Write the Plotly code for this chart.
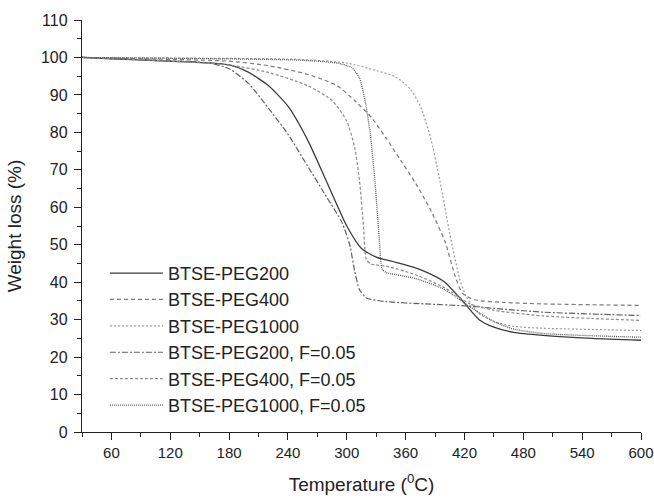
import plotly.graph_objects as go

# Temperatures (°C) and weight (%)
t_peg200 = [30, 60, 100, 140, 180, 200, 220, 240, 260, 280, 300, 315, 330, 350, 370, 385, 400, 418, 435, 450, 470, 500, 550, 600]
w_peg200 = [100, 99.6, 99.2, 98.8, 98.0, 96.0, 92.5, 87.0, 78.0, 66.5, 55.0, 49.0, 46.7, 45.3, 43.8, 42.2, 40.0, 35.0, 30.0, 28.0, 26.6, 25.8, 25.0, 24.5]

t_peg400 = [30, 100, 180, 220, 260, 290, 310, 325, 340, 355, 370, 385, 400, 410, 418, 430, 460, 500, 600]
w_peg400 = [100, 99.6, 99.0, 97.8, 95.5, 92.5, 88.0, 84.0, 78.5, 72.5, 66.5, 59.5, 51.0, 42.0, 37.0, 35.3, 34.6, 34.2, 33.8]

t_peg1000 = [30, 150, 250, 300, 330, 350, 365, 375, 385, 395, 405, 415, 422, 435, 450, 470, 500, 600]
w_peg1000 = [100, 99.8, 99.5, 98.5, 96.5, 94.8, 91.5, 87.0, 79.0, 67.0, 53.0, 41.0, 36.0, 31.6, 29.5, 28.2, 27.7, 27.1]

t_peg200f = [30, 100, 160, 180, 200, 220, 240, 260, 280, 295, 303, 308, 313, 320, 340, 380, 420, 460, 500, 550, 600]
w_peg200f = [100, 99.3, 98.5, 97.0, 93.0, 86.5, 79.5, 71.0, 62.5, 56.0, 50.0, 43.0, 38.0, 35.8, 34.8, 34.2, 33.7, 32.8, 32.0, 31.5, 31.1]

t_peg400f = [30, 100, 180, 220, 260, 285, 300, 308, 313, 317, 320, 325, 340, 370, 400, 425, 450, 500, 550, 600]
w_peg400f = [100, 99.3, 98.0, 96.0, 92.5, 88.5, 83.0, 76.0, 67.0, 55.0, 46.0, 44.8, 44.3, 42.0, 38.5, 34.3, 32.5, 31.0, 30.3, 29.8]

t_peg1000f = [30, 150, 250, 290, 305, 313, 319, 324, 329, 333, 336, 340, 370, 400, 425, 450, 470, 500, 550, 600]
w_peg1000f = [100, 99.7, 99.3, 98.5, 97.3, 94.5, 88.0, 79.5, 66.0, 52.0, 43.5, 42.6, 41.0, 38.0, 33.5, 29.5, 27.5, 26.3, 25.7, 25.3]

names = ["BTSE-PEG200", "BTSE-PEG400", "BTSE-PEG1000",
         "BTSE-PEG200, F=0.05", "BTSE-PEG400, F=0.05", "BTSE-PEG1000, F=0.05"]
series = [(t_peg200, w_peg200), (t_peg400, w_peg400), (t_peg1000, w_peg1000),
          (t_peg200f, w_peg200f), (t_peg400f, w_peg400f), (t_peg1000f, w_peg1000f)]
styles = [
    dict(color="#3c3c3c", dash="solid", width=1.3),
    dict(color="#7a7a7a", dash="4px,3px", width=1.2),
    dict(color="#9a9a9a", dash="2px,2px", width=1.2),
    dict(color="#606060", dash="6px,2px,2px,2px", width=1.2),
    dict(color="#8c8c8c", dash="3px,2px", width=1.2),
    dict(color="#5a5a5a", dash="1px,1px", width=1.3),
]

fig = go.Figure()
for name, (t, w), st in zip(names, series, styles):
    fig.add_trace(go.Scatter(x=t, y=w, mode="lines", name=name,
                             line=dict(shape="spline", smoothing=0.6, **st)))

font_family = "Liberation Sans, Arial, sans-serif"
axis_common = dict(showline=True, linecolor="#222", linewidth=1.4, ticks="outside",
                   ticklen=7, tickwidth=1.3, tickcolor="#222", showgrid=False,
                   zeroline=False, mirror=False, automargin=False,
                   ticklabeloverflow="allow")

fig.update_layout(
    width=654, height=500,
    margin=dict(l=82, r=13, t=20, b=68),
    paper_bgcolor="white", plot_bgcolor="white",
    font=dict(family=font_family, color="#222"),
    showlegend=True,
    legend=dict(x=0.041, y=0.43, xanchor="left", yanchor="top",
                bgcolor="rgba(0,0,0,0)", itemwidth=53,
                font=dict(family=font_family, size=18, color="#222"),
                tracegroupgap=0),
    xaxis=dict(range=[30, 600], tick0=60, dtick=60,
               tickfont=dict(family=font_family, size=15, color="#222"),
               minor=dict(ticks="outside", dtick=30, tick0=30, ticklen=4, tickcolor="#222", tickwidth=1.2),
               title=dict(text="Temperature (<sup>0</sup>C)", standoff=17,
                          font=dict(family=font_family, size=19, color="#222")),
               **axis_common),
    yaxis=dict(range=[0, 110], tick0=0, dtick=10, ticklabelstandoff=3,
               tickfont=dict(family=font_family, size=16, color="#222"),
               minor=dict(ticks="outside", dtick=5, ticklen=4, tickcolor="#222", tickwidth=1.2),
               title=dict(text="Weight loss (%)", standoff=14,
                          font=dict(family=font_family, size=19, color="#222")),
               **axis_common),
)

fig.write_html("out.html")
